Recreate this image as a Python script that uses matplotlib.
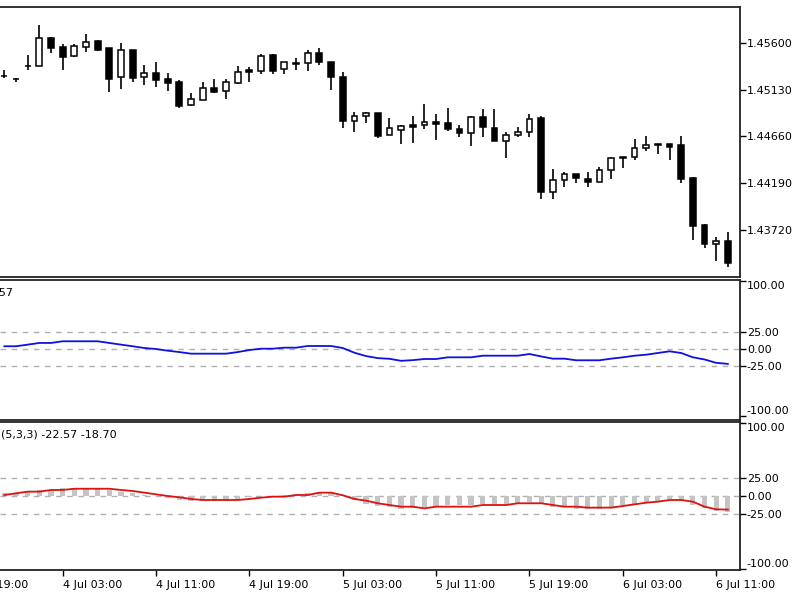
import matplotlib as mpl
mpl.use('Agg')
import matplotlib.pyplot as plt

plt.rcParams['font.family'] = 'DejaVu Sans'
plt.rcParams['axes.unicode_minus'] = False

# hourly candles, 3 Jul 22:00 .. 6 Jul 12:00
opens = [1.45263, 1.45241, 1.45362, 1.45369, 1.45644, 1.45554, 1.45470, 1.45560, 1.45617, 1.45544,
         1.45253, 1.45527, 1.45259, 1.45293, 1.45236, 1.45209, 1.44978, 1.45025, 1.45146, 1.45112,
         1.45193, 1.45326, 1.45319, 1.45474, 1.45333, 1.45391, 1.45393, 1.45500, 1.45410, 1.45259,
         1.44817, 1.44864, 1.44891, 1.44674, 1.44724, 1.44774, 1.44774, 1.44804, 1.44791, 1.44734,
         1.44691, 1.44851, 1.44747, 1.44616, 1.44674, 1.44701, 1.44841, 1.44098, 1.44222, 1.44282,
         1.44232, 1.44205, 1.44322, 1.44456, 1.44456, 1.44540, 1.44580, 1.44580, 1.44573, 1.44239,
         1.43770, 1.43576, 1.43612]
closes = [1.45266, 1.45236, 1.45368, 1.45644, 1.45544, 1.45454, 1.45567, 1.45610, 1.45527, 1.45236,
          1.45527, 1.45249, 1.45293, 1.45226, 1.45199, 1.44965, 1.45032, 1.45146, 1.45105, 1.45206,
          1.45309, 1.45303, 1.45467, 1.45319, 1.45407, 1.45393, 1.45500, 1.45407, 1.45253, 1.44817,
          1.44864, 1.44891, 1.44664, 1.44741, 1.44764, 1.44757, 1.44807, 1.44789, 1.44731, 1.44691,
          1.44851, 1.44757, 1.44613, 1.44674, 1.44704, 1.44837, 1.44098, 1.44222, 1.44282, 1.44239,
          1.44205, 1.44322, 1.44440, 1.44440, 1.44540, 1.44573, 1.44573, 1.44556, 1.44232, 1.43763,
          1.43576, 1.43612, 1.43385]
highs = [1.45326, 1.45246, 1.45477, 1.45778, 1.45661, 1.45584, 1.45584, 1.45688, 1.45627, 1.45544,
         1.45600, 1.45527, 1.45376, 1.45410, 1.45293, 1.45226, 1.45092, 1.45206, 1.45233, 1.45233,
         1.45366, 1.45359, 1.45487, 1.45487, 1.45407, 1.45450, 1.45527, 1.45544, 1.45410, 1.45309,
         1.44908, 1.44908, 1.44898, 1.44841, 1.44774, 1.44864, 1.44985, 1.44884, 1.44942, 1.44774,
         1.44864, 1.44932, 1.44932, 1.44707, 1.44751, 1.44884, 1.44864, 1.44329, 1.44305, 1.44282,
         1.44305, 1.44355, 1.44456, 1.44456, 1.44630, 1.44664, 1.44580, 1.44583, 1.44664, 1.44255,
         1.43780, 1.43653, 1.43697]
lows = [1.45246, 1.45206, 1.45326, 1.45366, 1.45494, 1.45326, 1.45460, 1.45510, 1.45517, 1.45108,
        1.45132, 1.45209, 1.45176, 1.45152, 1.45118, 1.44942, 1.44965, 1.45025, 1.45092, 1.45035,
        1.45183, 1.45209, 1.45286, 1.45286, 1.45286, 1.45326, 1.45319, 1.45376, 1.45125, 1.44741,
        1.44701, 1.44791, 1.44640, 1.44674, 1.44583, 1.44596, 1.44731, 1.44623, 1.44717, 1.44657,
        1.44566, 1.44657, 1.44613, 1.44440, 1.44657, 1.44657, 1.44028, 1.44028, 1.44149, 1.44195,
        1.44149, 1.44205, 1.44232, 1.44339, 1.44423, 1.44513, 1.44483, 1.44423, 1.44195, 1.43619,
        1.43536, 1.43412, 1.43345]

# oscillator (main) and signal
main_line = [3.6, 3.6, 6, 8.5, 8.5, 11, 11, 11, 11, 8.5,
             6, 3.6, 1, -0.5, -3, -5, -7.4, -7.4, -7.4, -7.4,
             -5, -2, 0, 0, 1.5, 1.5, 4, 4, 4, 1,
             -6, -11, -14, -15, -18, -17, -15.3, -15.3, -12.8, -12.8,
             -12.8, -10.4, -10.4, -10.4, -10.4, -7.9, -11.5, -14.8, -14.8, -17.2,
             -17.2, -17.2, -14.8, -12.8, -10.4, -8.9, -6.4, -3.9, -6.4, -12.8,
             -16, -21, -22.57]
signal = [1.4, 3.7, 6, 6, 8.3, 8.3, 10, 10, 10, 10,
          8.3, 6.9, 4.6, 2.3, 0, -1.8, -4.1, -5.5, -5.5, -5.5,
          -5.5, -4.1, -2.3, -0.9, -0.9, 1.4, 1.4, 4.6, 4.6, 1,
          -4.1, -6.4, -10, -12.4, -14.7, -14.7, -17, -14.7, -14.7, -14.7,
          -14.7, -12.4, -12.4, -12.4, -10, -10, -10, -12.4, -14.7, -14.7,
          -16, -16, -16, -13.8, -11.5, -9.2, -7.8, -5.5, -5.5, -7.8,
          -14.7, -18.3, -18.7]
hist = main_line

price_ticks = [1.43720, 1.44190, 1.44660, 1.45130, 1.45600]
osc_ticks = [100, 25, 0, -25, -100]
levels = [25, 0, -25]
time_ticks = [-3, 5, 13, 21, 29, 37, 45, 53, 61]
time_labels = ['3 Jul 19:00', '4 Jul 03:00', '4 Jul 11:00', '4 Jul 19:00', '5 Jul 03:00',
               '5 Jul 11:00', '5 Jul 19:00', '6 Jul 03:00', '6 Jul 11:00']

x = list(range(len(opens)))
xlim = (-0.37, 63.04)

fig = plt.figure(figsize=(8, 6), dpi=100)
ax1 = fig.add_axes([0, 1 - 277 / 600, 740 / 800, 270 / 600])
ax2 = fig.add_axes([0, 1 - 420 / 600, 740 / 800, 140 / 600])
ax3 = fig.add_axes([0, 1 - 570 / 600, 740 / 800, 148 / 600])


def frame(ax):
    ax.spines['left'].set_visible(False)
    for s in ['top', 'right', 'bottom']:
        ax.spines[s].set_linewidth(1.3)
        ax.spines[s].set_color('#222222')
    ax.yaxis.tick_right()
    ax.tick_params(axis='y', direction='out', length=4, width=1, pad=1, labelsize=8, colors='black')
    ax.tick_params(axis='x', bottom=False, labelbottom=False)


# candles
frame(ax1)
for i in x:
    ax1.vlines(i, lows[i], highs[i], color='black', linewidth=1.2, zorder=1)
    bottom = min(opens[i], closes[i])
    height = max(abs(closes[i] - opens[i]), 0.00002)
    face = 'white' if closes[i] >= opens[i] else 'black'
    ax1.bar(i, height, bottom=bottom, width=0.5, color=face, edgecolor='black', linewidth=1.1, zorder=2)
ax1.set_ylim(1.43248, 1.45959)
ax1.set_yticks(price_ticks)
ax1.set_yticklabels(['%.5f' % p for p in price_ticks])

# oscillator panels
for ax, lim in [(ax2, (-105.8, 101.9)), (ax3, (-101.8, 101.8))]:
    frame(ax)
    ax.set_ylim(*lim)
    for lv in levels:
        ax.axhline(lv, color='#b0b0b0', linewidth=1, linestyle=(0, (4, 4)), zorder=0)
    ax.set_yticks(osc_ticks)
    labels = ax.set_yticklabels(['%.2f' % v for v in osc_ticks])
    labels[0].set_va('top')
    labels[-1].set_va('bottom')

ax2.plot(x, main_line, color='#1010e0', linewidth=1.3)
ax2.text(13 / 740, 1 - 13 / 140, '-22.57', transform=ax2.transAxes, ha='right', va='center', fontsize=8)

ax3.bar(x, hist, width=0.45, color='#c4c4c4', zorder=1)
ax3.plot(x, signal, color='#e01010', linewidth=1.3, zorder=2)
ax3.text(117 / 740, 1 - 13 / 148, '(5,3,3) -22.57 -18.70', transform=ax3.transAxes,
         ha='right', va='center', fontsize=8)

ax3.set_xticks(time_ticks[1:])
ax3.set_xticklabels(time_labels[1:], ha='left')
ax3.tick_params(axis='x', bottom=True, labelbottom=True, direction='out', length=4, width=1,
                pad=3, labelsize=8)
# first time label sits left of the visible area, only its tail shows
ax3.annotate(time_labels[0], xy=(time_ticks[0], 0), xycoords=('data', 'axes fraction'),
             xytext=(0, -7), textcoords='offset points', ha='left', va='top', fontsize=8,
             annotation_clip=False)

for ax in (ax1, ax2, ax3):
    ax.set_xlim(*xlim)

fig.savefig('out.png', dpi=100, facecolor='white')
